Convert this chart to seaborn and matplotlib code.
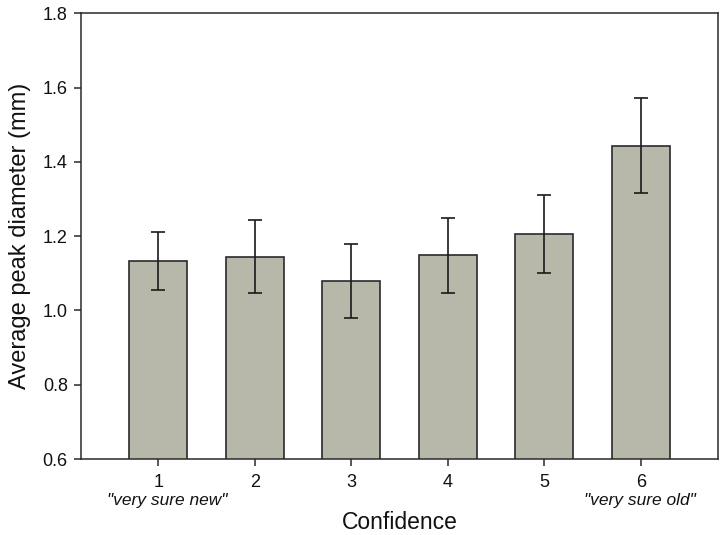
import numpy as np
import pandas as pd
import matplotlib
matplotlib.use("Agg")
import matplotlib.pyplot as plt
import seaborn as sns

# Data
confidence = ["1", "2", "3", "4", "5", "6"]
mean_diameter = [1.133, 1.145, 1.080, 1.149, 1.206, 1.444]
sem = [0.078, 0.098, 0.099, 0.101, 0.105, 0.128]
yticks = [0.6, 0.8, 1.0, 1.2, 1.4, 1.6, 1.8]

df = pd.DataFrame({"Confidence": confidence, "Diameter": mean_diameter, "SEM": sem})

sns.set_style("ticks")
plt.rcParams["font.family"] = ["Liberation Sans", "DejaVu Sans"]
plt.rcParams["text.color"] = "#111111"
plt.rcParams["axes.labelcolor"] = "#111111"
plt.rcParams["xtick.labelcolor"] = "#111111"
plt.rcParams["ytick.labelcolor"] = "#111111"

fig = plt.figure(figsize=(7.26, 5.35), dpi=100)
ax = fig.add_axes([0.1116, 0.142, 0.8774, 0.833])

sns.barplot(data=df, x="Confidence", y="Diameter", color="#b8b8aa",
            edgecolor="#2a2a2a", linewidth=1.2, width=0.6, saturation=1,
            errorbar=None, ax=ax)
ax.errorbar(np.arange(len(df)), df["Diameter"], yerr=df["SEM"], fmt="none",
            ecolor="#1a1a1a", elinewidth=1.2, capsize=4.8, capthick=1.2)

ax.set_xlim(-0.8, 5.8)
ax.set_ylim(0.6, 1.8)
ax.set_yticks(yticks)
ax.set_yticklabels([f"{t:.1f}" for t in yticks])
for s in ax.spines.values():
    s.set_visible(True)
    s.set_linewidth(1.1)
    s.set_color("#2a2a2a")
ax.tick_params(direction="out", length=5, width=1.1, labelsize=13, color="#2a2a2a")
ax.tick_params(axis="x", pad=5.5)
ax.tick_params(axis="y", pad=4.5)

ax.set_xlabel("Confidence", fontsize=16.5)
ax.xaxis.set_label_coords(0.5, (459 - 523) / 446)
ax.xaxis.label.set_va("center")
ax.set_ylabel("Average peak diameter (mm)", fontsize=17)
ax.yaxis.set_label_coords((20 - 81) / 637, 0.5)
ax.yaxis.label.set_va("center")

ax.text(0.09, (459 - 501) / 446, '"very sure new"', transform=ax.get_xaxis_transform(),
        ha="center", va="center", fontsize=12.5, style="italic")
ax.text(4.99, (459 - 501) / 446, '"very sure old"', transform=ax.get_xaxis_transform(),
        ha="center", va="center", fontsize=12.5, style="italic")

fig.savefig("out.png", dpi=100)
